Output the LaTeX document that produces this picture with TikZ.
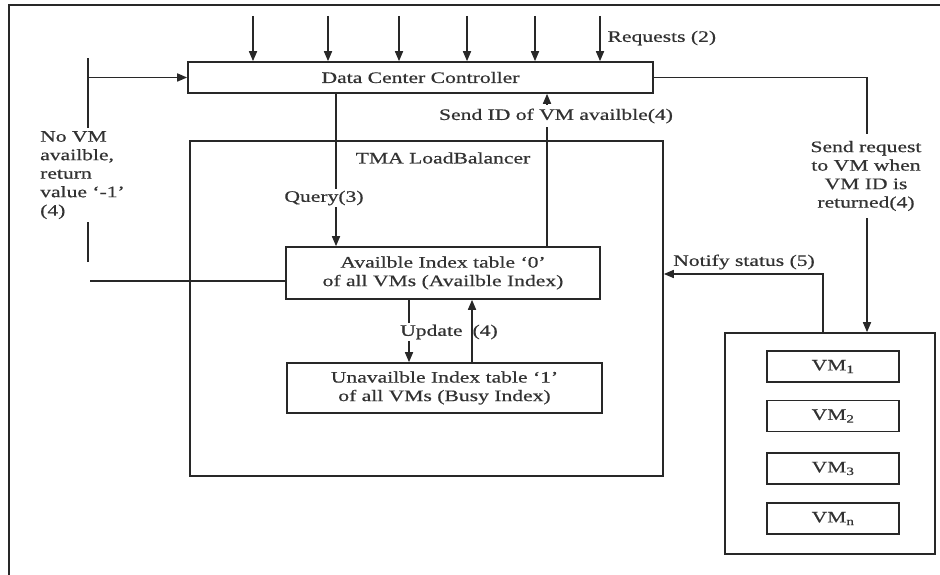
\documentclass[tikz,border=0pt]{standalone}
\usepackage{fontspec}
\setmainfont{Liberation Serif}[FakeStretch=1.35,FakeBold=0.6]
\usetikzlibrary{arrows.meta}
\definecolor{ink}{RGB}{40,40,40}
\definecolor{txt}{RGB}{50,50,50}

\begin{document}
\begin{tikzpicture}[x=1pt,y=-1pt,
  every node/.style={font=\fontsize{16}{18.5}\selectfont, text=txt},
  box/.style={draw=ink, line width=1.6pt, inner sep=0pt},
  line/.style={draw=ink, line width=1.6pt},
  arr/.style={line, -{Triangle[length=10pt,width=8pt]}},
  lbl/.style={fill=white, inner sep=2pt}]
\useasboundingbox (0,0) rectangle (940,575);

% page frame (top and left edges)
\draw[line] (9,575) -- (9,5) -- (940,5);

% main blocks
\node[box, minimum width=465pt, minimum height=31pt] (dcc) at (420.5,77.5) {Data Center Controller};
\node[box, minimum width=473pt, minimum height=335pt] (tma) at (426.5,308.5) {};
\node (tmat) at (443,158) {TMA LoadBalancer};
\node[box, align=center, minimum width=314pt, minimum height=52pt] (avail) at (443,273)
  {Availble Index table `0'\\of all VMs (Availble Index)};
\node[box, align=center, minimum width=315pt, minimum height=50pt] (unav) at (444.5,388)
  {Unavailble Index table `1'\\of all VMs (Busy Index)};

% VM pool
\node[box, minimum width=210pt, minimum height=221pt] (vms) at (830,443.5) {};
\foreach \i/\y in {1/366.5, 2/416, 3/468.5, n/518.5}
  \node[box, minimum width=132pt, minimum height=31pt] (vm\i) at (833,\y) {VM\textsubscript{\i}};

% incoming requests
\foreach \x [count=\i] in {253,328,399,467,535,600} {
  \coordinate (in\i) at (\x,16);
  \draw[arr] (in\i) -- (in\i |- dcc.north);
}
\node[anchor=west] (req) at (604,38) {Requests (2)};

% query to the available index
\coordinate (qx) at (336,0);
\draw[arr] (qx |- dcc.south) -- (qx |- avail.north);
\node[lbl] (qlbl) at (324,198) {Query(3)};

% VM id sent back to the controller
\coordinate (sx) at (547,0);
\draw[arr] (sx |- avail.north) -- (sx |- dcc.south);
\node[lbl, inner ysep=4pt] (slbl) at (556,116) {Send ID of VM availble(4)};

% no VM available: return -1
\coordinate (rb) at (90,281);
\coordinate (rv) at (88,262);
\coordinate (rt) at (88,58);
\draw[line] (rb -| avail.west) -- (rb);
\draw[line] (rv) -- (rt);
\draw[arr] (rt |- dcc.west) -- (dcc.west);
\node[lbl, align=left, anchor=north west, inner sep=3pt] (nolbl) at (37,128)
  {No VM\\availble,\\return\\value `-1'\\(4)};

% update between the two index tables
\coordinate (ud) at (409,0);
\coordinate (uu) at (472,0);
\draw[arr] (ud |- avail.south) -- (ud |- unav.north);
\node[lbl, anchor=west] (ulbl) at (398,332) {Update\hspace{10pt}(4)};
\draw[arr] (uu |- unav.north) -- (uu |- avail.south);

% request forwarded to the VM pool
\coordinate (srx) at (867,0);
\draw[arr] (dcc.east) -- (dcc.east -| srx) -- (srx |- vms.north);
\node[lbl, align=center, inner ysep=7pt] (srlbl) at (866,176)
  {Send request\\to VM when\\VM ID is\\returned(4)};

% status notification
\coordinate (nt) at (823,274);
\draw[arr] (nt |- vms.north) -- (nt) -- (nt -| tma.east);
\node (nlbl) at (744,262) {Notify status (5)};
\end{tikzpicture}
\end{document}
